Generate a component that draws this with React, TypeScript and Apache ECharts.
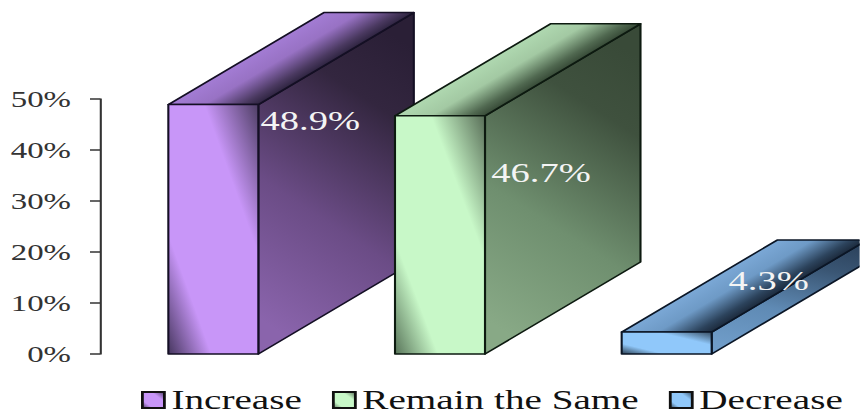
import React, { useEffect, useRef } from "react";
import * as echarts from "echarts";

const categories = ["Increase", "Remain the Same", "Decrease"];
const values = [48.9, 46.7, 4.3];
const yTicks = { min: 0, max: 50, interval: 10 };

const K = 1.4; // the reference is stretched horizontally
const px = (v: number) => v / K;
const SERIF = "'Liberation Serif', serif";
const BAR_W = px(90);
const DX = px(155.5);
const DY = 92;

const palettes = [
  { front: ["#46365e", "#c896f8", "#c896f8", "#4e3e64"], top: ["#a37cd4", "#9872c4", "#4a3960", "#2e2440"], side: ["#2a1f36", "#33263f", "#6b4c86", "#8a64ac"], edge: "#140f24", labelOff: [52, 16] },
  { front: ["#587459", "#c8f8c8", "#c8f8c8", "#586d57"], top: ["#afd8b0", "#a3c9a3", "#506850", "#374a37"], side: ["#394a38", "#3f513e", "#6f8f6f", "#88a986"], edge: "#0d1a10", labelOff: [56, 57] },
  { front: ["#2b3f52", "#90c8fa", "#90c8fa", "#364c61"], top: ["#7ba8d6", "#6e9ac6", "#2c435c", "#1c2a3c"], side: ["#2e4560", "#3a5674", "#5f8ab4", "#6f9cc8"], edge: "#0b1626", labelOff: [57, -52] },
];

const grad = (x: number, y: number, x2: number, y2: number, colors: string[], offs: number[], global = false) =>
  new echarts.graphic.LinearGradient(x, y, x2, y2, colors.map((color, i) => ({ offset: offs[i], color })), global);

const frontGrad = (c: string[]) => grad(0, 1, 1, 0, c, [0, 0.24, 0.7, 1]);

function makeRender(idx: number) {
  const p = palettes[idx];
  return (_: any, api: any) => {
    const [cx, yTop] = api.coord([api.value(0), api.value(1)]);
    const [, yBase] = api.coord([api.value(0), 0]);
    const x0 = cx - BAR_W / 2;
    const x1 = cx + BAR_W / 2;
    const stroke = { stroke: p.edge, lineWidth: 1.5, lineJoin: "round" };
    // perpendicular gradient across the slanted top face
    const len2 = DX * DX + DY * DY;
    const proj = (BAR_W * DY * DY) / len2;
    const projY = (BAR_W * DX * DY) / len2;
    return {
      type: "group",
      children: [
        {
          type: "polygon",
          shape: { points: [[x1, yTop], [x1 + DX, yTop - DY], [x1 + DX, yBase - DY], [x1, yBase]] },
          style: { fill: grad(0.65, 0, 0.35, 1, p.side, [0, 0.22, 0.62, 1]), ...stroke },
        },
        {
          type: "polygon",
          shape: { points: [[x0, yTop], [x0 + DX, yTop - DY], [x1 + DX, yTop - DY], [x1, yTop]] },
          style: { fill: grad(x0, yTop, x0 + proj, yTop + projY, p.top, [0, 0.4, 0.82, 1], true), ...stroke },
        },
        {
          type: "rect",
          shape: { x: x0, y: yTop, width: BAR_W, height: yBase - yTop },
          style: { fill: frontGrad(p.front), ...stroke },
        },
        {
          type: "text",
          z2: 10,
          style: {
            text: api.value(1).toFixed(1) + "%",
            x: x1 + px(p.labelOff[0]),
            y: yTop + p.labelOff[1],
            fill: "#f4f4f4",
            font: `27.5px ${SERIF}`,
            align: "center",
            verticalAlign: "middle",
          },
        },
      ],
    };
  };
}

export default function App() {
  const ref = useRef<HTMLDivElement>(null);
  useEffect(() => {
    document.body.style.margin = "0";
    const chart = echarts.init(ref.current!, undefined, { renderer: "svg" });
    chart.setOption({
      animation: false,
      backgroundColor: "#ffffff",
      grid: { left: px(100), top: 99, width: px(680), height: 255 },
      xAxis: { type: "category", data: categories, show: false },
      yAxis: {
        type: "value",
        min: yTicks.min,
        max: yTicks.max,
        interval: yTicks.interval,
        splitLine: { show: false },
        axisLine: { show: true, lineStyle: { color: "#333333", width: 1.5 } },
        axisTick: { show: true, length: px(10), lineStyle: { color: "#333333", width: 1.5 } },
        axisLabel: { formatter: "{value}%", margin: px(29), color: "#333333", fontFamily: SERIF, fontSize: 23.5 },
      },
      legend: {
        left: px(141),
        top: 386,
        padding: 0,
        itemGap: px(30),
        itemWidth: px(22),
        itemHeight: 16,
        textStyle: { fontFamily: SERIF, fontSize: 28, lineHeight: 24, color: "#111111" },
        data: categories.map((name, i) => ({
          name,
          icon: "rect",
          itemStyle: { color: frontGrad(palettes[i].front), borderColor: "#111111", borderWidth: 2 },
        })),
      },
      series: categories.map((name, i) => ({
        type: "custom",
        name,
        clip: false,
        encode: { x: 0, y: 1 },
        itemStyle: { color: palettes[i].front[1] },
        data: [[name, values[i]]],
        renderItem: makeRender(i),
      })),
    });
    return () => chart.dispose();
  }, []);
  return (
    <div style={{ width: 860, height: 416, overflow: "hidden", position: "relative" }}>
      <div
        ref={ref}
        style={{
          width: 860 / K,
          height: 416,
          position: "absolute",
          left: 0,
          top: 0,
          transform: `scaleX(${K})`,
          transformOrigin: "0 0",
        }}
      />
    </div>
  );
}
